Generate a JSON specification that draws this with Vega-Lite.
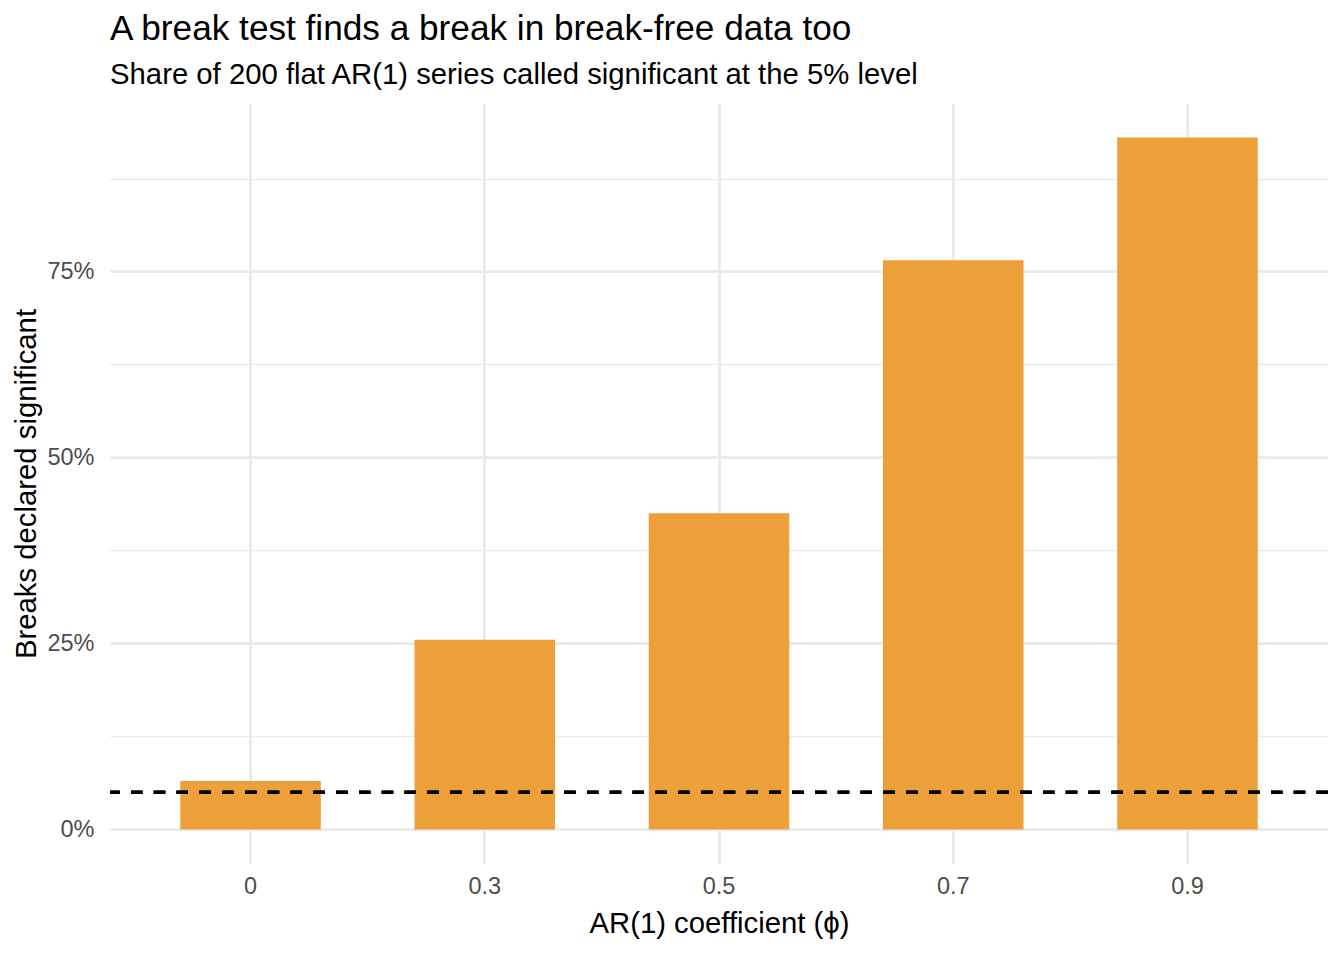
{
  "$schema": "https://vega.github.io/schema/vega-lite/v6.json",
  "autosize": {"type": "none"},
  "width": 1218,
  "height": 761,
  "padding": {"left": 110, "top": 103, "right": 16, "bottom": 96},
  "background": "white",
  "title": {
    "text": "A break test finds a break in break-free data too",
    "subtitle": "Share of 200 flat AR(1) series called significant at the 5% level",
    "anchor": "start",
    "frame": "group",
    "font": "Liberation Sans",
    "fontSize": 35.2,
    "fontWeight": "normal",
    "color": "black",
    "subtitleFont": "Liberation Sans",
    "subtitleFontSize": 29.3,
    "subtitleColor": "black",
    "subtitlePadding": 14,
    "offset": 13
  },
  "data": {
    "values": [
      {"phi": "0", "share": 0.065},
      {"phi": "0.3", "share": 0.255},
      {"phi": "0.5", "share": 0.425},
      {"phi": "0.7", "share": 0.765},
      {"phi": "0.9", "share": 0.93}
    ]
  },
  "layer": [
    {
      "mark": {"type": "bar", "color": "#EDA03A"},
      "encoding": {
        "x": {
          "field": "phi",
          "type": "ordinal",
          "sort": null,
          "scale": {"paddingInner": 0.4, "paddingOuter": 0.3},
          "axis": {
            "title": "AR(1) coefficient (ϕ)",
            "labelAngle": 0,
            "bandPosition": 0.5,
            "grid": true,
            "gridColor": "#ebebeb",
            "gridWidth": 2.84,
            "domain": false,
            "ticks": false,
            "tickSize": 0,
            "labelPadding": 29,
            "labelBaseline": "alphabetic",
            "titleY": 68,
            "titleBaseline": "alphabetic"
          }
        },
        "y": {
          "field": "share",
          "type": "quantitative",
          "scale": {"domain": [-0.0465, 0.9765], "nice": false, "zero": false},
          "axis": {
            "title": "Breaks declared significant",
            "values": [0, 0.25, 0.5, 0.75],
            "format": ".0%",
            "grid": true,
            "gridColor": "#ebebeb",
            "gridWidth": 2.84,
            "domain": false,
            "ticks": false,
            "tickSize": 0,
            "labelPadding": 16,
            "titleX": -75,
            "titleBaseline": "alphabetic"
          }
        }
      }
    },
    {
      "mark": {"type": "rule", "color": "black", "strokeWidth": 2.84, "strokeDash": [11.4, 11.4]},
      "encoding": {
        "y": {
          "datum": 0.05,
          "type": "quantitative",
          "axis": {
            "title": null,
            "values": [0.125, 0.375, 0.625, 0.875],
            "labels": false,
            "grid": true,
            "gridColor": "#ebebeb",
            "gridWidth": 1.42,
            "domain": false,
            "ticks": false,
            "orient": "left"
          }
        }
      }
    }
  ],
  "resolve": {"axis": {"y": "independent"}},
  "config": {
    "view": {"stroke": null},
    "axis": {
      "labelFont": "Liberation Sans",
      "labelFontSize": 23.5,
      "labelColor": "#4d4d4d",
      "titleFont": "Liberation Sans",
      "titleFontSize": 29.3,
      "titleFontWeight": "normal",
      "titleColor": "black"
    }
  }
}
